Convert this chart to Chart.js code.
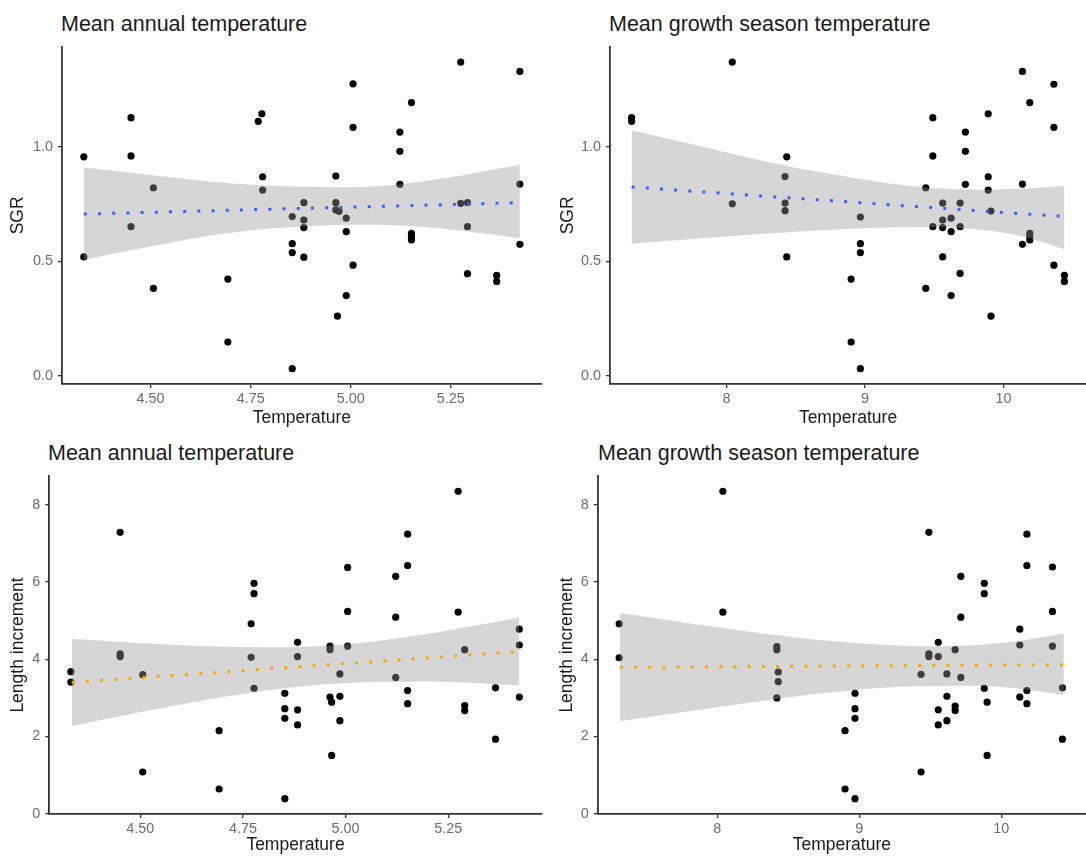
<!DOCTYPE html>
<html lang="en">
<head>
    <meta charset="UTF-8">
    <title>SGR and length increment vs temperature</title>
    <style>
        body {
            margin: 0;
            background: #ffffff;
            font-family: "Liberation Sans", Arial, sans-serif;
        }
        #page {
            position: relative;
            width: 1086px;
            height: 858px;
            overflow: hidden;
        }
        .panel-title {
            position: absolute;
            font-size: 21.5px;
            line-height: 1;
            color: #1a1a1a;
            white-space: nowrap;
            z-index: 2;
        }
        canvas {
            position: absolute;
        }
    </style>
</head>
<body>
<div id="page">
    <div class="panel-title" style="left:61px; top:14px;">Mean annual temperature</div>
    <div class="panel-title" style="left:609px; top:14px;">Mean growth season temperature</div>
    <div class="panel-title" style="left:48px; top:443px;">Mean annual temperature</div>
    <div class="panel-title" style="left:598px; top:443px;">Mean growth season temperature</div>

    <canvas id="c1" width="543" height="390" style="left:0px; top:40px;"></canvas>
    <canvas id="c2" width="543" height="390" style="left:543px; top:40px;"></canvas>
    <canvas id="c3" width="543" height="388" style="left:0px; top:470px;"></canvas>
    <canvas id="c4" width="543" height="388" style="left:543px; top:470px;"></canvas>
</div>

<script src="https://cdn.jsdelivr.net/npm/chart.js@4.4.1/dist/chart.umd.min.js"></script>
<script>
    // tick values and labels
    const annualTicks = [4.5, 4.75, 5.0, 5.25];
    const annualTickLabels = ['4.50', '4.75', '5.00', '5.25'];
    const growthTicks = [8, 9, 10];
    const growthTickLabels = ['8', '9', '10'];
    const sgrTicks = [0, 0.5, 1.0];
    const sgrTickLabels = ['0.0', '0.5', '1.0'];
    const lengthTicks = [0, 2, 4, 6, 8];
    const lengthTickLabels = ['0', '2', '4', '6', '8'];

    // axis limits
    const annualRange = [4.2785, 5.4775];
    const growthRange = [7.159, 10.596];
    const sgrRange = [-0.035, 1.438];
    const lengthRange = [-0.008, 8.748];

    // SGR vs mean annual temperature
    const annualSgrX = [4.333, 4.333, 4.451, 4.451, 4.451, 4.507, 4.507, 4.693, 4.693, 4.769, 4.778, 4.780, 4.780,
        4.854, 4.854, 4.854, 4.854, 4.883, 4.883, 4.883, 4.883, 4.963, 4.963, 4.963, 4.967, 4.971,
        4.989, 4.989, 4.989, 5.006, 5.006, 5.006, 5.123, 5.123, 5.123, 5.152, 5.152, 5.152, 5.152,
        5.275, 5.275, 5.292, 5.292, 5.292, 5.365, 5.365, 5.423, 5.423, 5.423];
    const annualSgrY = [0.957, 0.520, 1.128, 0.961, 0.652, 0.822, 0.383, 0.423, 0.148, 1.112, 1.145, 0.870, 0.812,
        0.696, 0.578, 0.539, 0.032, 0.757, 0.681, 0.648, 0.519, 0.873, 0.757, 0.725, 0.261, 0.719,
        0.689, 0.630, 0.351, 1.276, 1.086, 0.484, 1.065, 0.981, 0.837, 1.194, 0.623, 0.609, 0.594,
        1.371, 0.754, 0.757, 0.652, 0.447, 0.439, 0.413, 1.330, 0.838, 0.575];
    const annualSgrFitX = [4.333, 5.423];
    const annualSgrFitY = [0.707, 0.757];
    const annualSgrBandX = [4.333, 4.5, 4.7, 4.9, 5.05, 5.2, 5.423];
    const annualSgrBandHi = [0.910, 0.878, 0.842, 0.826, 0.828, 0.855, 0.923];
    const annualSgrBandLo = [0.507, 0.565, 0.625, 0.655, 0.660, 0.648, 0.602];

    // SGR vs mean growth season temperature
    const growthSgrX = [7.315, 7.315, 8.042, 8.042, 8.423, 8.423, 8.423, 8.435, 8.435, 8.900, 8.900,
        8.967, 8.967, 8.967, 8.967, 9.439, 9.439, 9.490, 9.490, 9.490, 9.561, 9.561, 9.561, 9.561,
        9.622, 9.622, 9.622, 9.687, 9.687, 9.687, 9.725, 9.725, 9.725, 9.890, 9.890, 9.890, 9.910, 9.910,
        10.137, 10.137, 10.137, 10.190, 10.190, 10.190, 10.190, 10.364, 10.364, 10.364, 10.440, 10.440];
    const growthSgrY = [1.128, 1.112, 1.371, 0.752, 0.871, 0.755, 0.722, 0.957, 0.520, 0.423, 0.148,
        0.694, 0.578, 0.539, 0.032, 0.822, 0.383, 1.128, 0.961, 0.652, 0.755, 0.681, 0.648, 0.520,
        0.689, 0.630, 0.351, 0.755, 0.652, 0.448, 1.065, 0.981, 0.837, 1.145, 0.870, 0.812, 0.720, 0.261,
        1.330, 0.838, 0.575, 1.194, 0.623, 0.609, 0.594, 1.274, 1.086, 0.484, 0.439, 0.413];
    const growthSgrFitX = [7.315, 10.44];
    const growthSgrFitY = [0.825, 0.696];
    const growthSgrBandX = [7.315, 7.8, 8.3, 8.8, 9.3, 9.7, 10.1, 10.44];
    const growthSgrBandHi = [1.073, 1.005, 0.935, 0.878, 0.832, 0.815, 0.818, 0.830];
    const growthSgrBandLo = [0.577, 0.600, 0.622, 0.640, 0.650, 0.645, 0.615, 0.554];

    // Length increment vs mean annual temperature
    const annualLenX = [4.331, 4.331, 4.451, 4.451, 4.451, 4.506, 4.506, 4.692, 4.692, 4.770, 4.770,
        4.777, 4.777, 4.777, 4.852, 4.852, 4.852, 4.852, 4.883, 4.883, 4.883, 4.883, 4.962, 4.962, 4.962,
        4.966, 4.966, 4.986, 4.986, 4.986, 5.005, 5.005, 5.005, 5.122, 5.122, 5.122, 5.151, 5.151, 5.151, 5.151,
        5.274, 5.274, 5.290, 5.290, 5.290, 5.365, 5.365, 5.423, 5.423, 5.423];
    const annualLenY = [3.68, 3.41, 7.29, 4.14, 4.07, 3.60, 1.08, 2.15, 0.64, 4.92, 4.05,
        5.97, 5.70, 3.25, 3.12, 2.72, 2.47, 0.39, 4.44, 4.07, 2.69, 2.30, 4.34, 4.25, 3.02,
        2.89, 1.51, 3.62, 3.04, 2.41, 6.38, 5.24, 4.34, 6.15, 5.09, 3.53, 7.24, 6.43, 3.19, 2.85,
        8.35, 5.22, 4.25, 2.80, 2.67, 3.26, 1.93, 4.78, 4.37, 3.02];
    const annualLenFitX = [4.333, 5.423];
    const annualLenFitY = [3.40, 4.20];
    const annualLenBandX = [4.333, 4.55, 4.75, 4.95, 5.15, 5.3, 5.423];
    const annualLenBandHi = [4.53, 4.39, 4.32, 4.35, 4.58, 4.84, 5.08];
    const annualLenBandLo = [2.27, 2.73, 3.10, 3.35, 3.42, 3.39, 3.32];

    // Length increment vs mean growth season temperature
    const growthLenX = [7.310, 7.310, 8.040, 8.040, 8.420, 8.420, 8.420, 8.430, 8.430, 8.900, 8.900,
        8.970, 8.970, 8.970, 8.970, 9.435, 9.435, 9.490, 9.490, 9.490, 9.556, 9.556, 9.556, 9.556,
        9.617, 9.617, 9.617, 9.675, 9.675, 9.675, 9.715, 9.715, 9.715, 9.880, 9.880, 9.880, 9.900, 9.900,
        10.130, 10.130, 10.130, 10.180, 10.180, 10.180, 10.180, 10.360, 10.360, 10.360, 10.430, 10.430];
    const growthLenY = [4.92, 4.04, 8.35, 5.22, 4.33, 4.25, 3.00, 3.67, 3.42, 2.15, 0.64,
        3.12, 2.72, 2.47, 0.39, 3.61, 1.08, 7.29, 4.14, 4.07, 4.44, 4.07, 2.69, 2.30,
        3.62, 3.04, 2.41, 4.25, 2.79, 2.67, 6.15, 5.09, 3.53, 5.97, 5.70, 3.25, 2.89, 1.51,
        4.78, 4.37, 3.02, 7.24, 6.43, 3.19, 2.85, 6.39, 5.24, 4.34, 3.26, 1.93];
    const growthLenFitX = [7.315, 10.44];
    const growthLenFitY = [3.79, 3.86];
    const growthLenBandX = [7.315, 8.0, 8.43, 8.74, 9.2, 9.6, 10.0, 10.44];
    const growthLenBandHi = [5.20, 4.83, 4.62, 4.49, 4.37, 4.34, 4.42, 4.66];
    const growthLenBandLo = [2.40, 2.76, 2.98, 3.12, 3.27, 3.31, 3.28, 3.08];

    const BLUE = '#3366ff';
    const ORANGE = '#ffa500';
    const AXIS = '#333333';
    const TICK_TEXT = '#6b6b6b';
    const TITLE_TEXT = '#1a1a1a';
    const FONT = '"Liberation Sans", Arial, sans-serif';

    function zip(xs, ys) {
        return xs.map((x, i) => ({ x: x, y: ys[i] }));
    }

    function makePanel(p) {
        const ctx = document.getElementById(p.id).getContext('2d');
        return new Chart(ctx, {
            type: 'scatter',
            data: {
                datasets: [
                    {
                        // fitted line
                        type: 'line',
                        data: zip(p.fitX, p.fitY),
                        borderColor: p.lineColor,
                        borderWidth: 3,
                        borderDash: [3, 11.2],
                        borderCapStyle: 'butt',
                        pointRadius: 0,
                        fill: false,
                        order: 1
                    },
                    {
                        // confidence band, upper edge (filled down to the next dataset)
                        type: 'line',
                        data: zip(p.bandX, p.bandHi),
                        borderWidth: 0,
                        borderColor: 'rgba(0,0,0,0)',
                        backgroundColor: 'rgba(153,153,153,0.4)',
                        pointRadius: 0,
                        tension: 0.4,
                        fill: '+1',
                        order: 2
                    },
                    {
                        type: 'line',
                        data: zip(p.bandX, p.bandLo),
                        borderWidth: 0,
                        borderColor: 'rgba(0,0,0,0)',
                        pointRadius: 0,
                        tension: 0.4,
                        fill: false,
                        order: 2
                    },
                    {
                        // observations
                        data: zip(p.xs, p.ys),
                        backgroundColor: '#000000',
                        borderWidth: 0,
                        pointRadius: 3.6,
                        order: 3
                    }
                ]
            },
            options: {
                responsive: false,
                animation: false,
                events: [],
                layout: {
                    autoPadding: false,
                    padding: { top: p.padTop, right: p.padRight, bottom: 0, left: 0 }
                },
                plugins: {
                    legend: { display: false },
                    tooltip: { enabled: false },
                    title: { display: false }
                },
                scales: {
                    x: {
                        type: 'linear',
                        min: p.xRange[0],
                        max: p.xRange[1],
                        afterBuildTicks: s => { s.ticks = p.xTicks.map(v => ({ value: v })); },
                        afterFit: s => {
                            s.height = p.xAxisH;
                            s.paddingLeft = 0;
                            s.paddingRight = 0;
                        },
                        ticks: {
                            callback: (v, i) => p.xTickLabels[i],
                            color: TICK_TEXT,
                            font: { family: FONT, size: 14.4 },
                            padding: 2.5,
                            maxRotation: 0
                        },
                        grid: {
                            display: true,
                            drawOnChartArea: false,
                            drawTicks: true,
                            tickLength: 4,
                            color: AXIS,
                            lineWidth: 1.3
                        },
                        border: { display: true, color: AXIS, width: 1.8 },
                        title: {
                            display: true,
                            text: 'Temperature',
                            color: TITLE_TEXT,
                            font: { family: FONT, size: 17.5 },
                            padding: { top: 0, bottom: p.xTitlePad }
                        }
                    },
                    y: {
                        type: 'linear',
                        min: p.yRange[0],
                        max: p.yRange[1],
                        afterBuildTicks: s => { s.ticks = p.yTicks.map(v => ({ value: v })); },
                        afterFit: s => {
                            s.width = p.yAxisW;
                            s.paddingTop = 0;
                            s.paddingBottom = 0;
                        },
                        ticks: {
                            callback: (v, i) => p.yTickLabels[i],
                            color: TICK_TEXT,
                            font: { family: FONT, size: 14.4 },
                            padding: 5
                        },
                        grid: {
                            display: true,
                            drawOnChartArea: false,
                            drawTicks: true,
                            tickLength: 4,
                            color: AXIS,
                            lineWidth: 1.3
                        },
                        border: { display: true, color: AXIS, width: 1.8 },
                        title: {
                            display: true,
                            text: p.yTitle,
                            color: TITLE_TEXT,
                            font: { family: FONT, size: 17.5 },
                            padding: { top: p.yTitlePad, bottom: 0 }
                        }
                    }
                }
            }
        });
    }

    makePanel({
        id: 'c1', xs: annualSgrX, ys: annualSgrY,
        fitX: annualSgrFitX, fitY: annualSgrFitY,
        bandX: annualSgrBandX, bandHi: annualSgrBandHi, bandLo: annualSgrBandLo,
        lineColor: BLUE, yTitle: 'SGR',
        xRange: annualRange, xTicks: annualTicks, xTickLabels: annualTickLabels,
        yRange: sgrRange, yTicks: sgrTicks, yTickLabels: sgrTickLabels,
        padTop: 6.7, padRight: 1.3, yAxisW: 62, xAxisH: 46, yTitlePad: 7.5, xTitlePad: 1.5
    });

    makePanel({
        id: 'c2', xs: growthSgrX, ys: growthSgrY,
        fitX: growthSgrFitX, fitY: growthSgrFitY,
        bandX: growthSgrBandX, bandHi: growthSgrBandHi, bandLo: growthSgrBandLo,
        lineColor: BLUE, yTitle: 'SGR',
        xRange: growthRange, xTicks: growthTicks, xTickLabels: growthTickLabels,
        yRange: sgrRange, yTicks: sgrTicks, yTickLabels: sgrTickLabels,
        padTop: 6.7, padRight: 0, yAxisW: 67, xAxisH: 46, yTitlePad: 14.5, xTitlePad: 1.5
    });

    makePanel({
        id: 'c3', xs: annualLenX, ys: annualLenY,
        fitX: annualLenFitX, fitY: annualLenFitY,
        bandX: annualLenBandX, bandHi: annualLenBandHi, bandLo: annualLenBandLo,
        lineColor: ORANGE, yTitle: 'Length increment',
        xRange: annualRange, xTicks: annualTicks, xTickLabels: annualTickLabels,
        yRange: lengthRange, yTicks: lengthTicks, yTickLabels: lengthTickLabels,
        padTop: 6, padRight: 1.3, yAxisW: 49.3, xAxisH: 44, yTitlePad: 7.5, xTitlePad: 2.5
    });

    makePanel({
        id: 'c4', xs: growthLenX, ys: growthLenY,
        fitX: growthLenFitX, fitY: growthLenFitY,
        bandX: growthLenBandX, bandHi: growthLenBandHi, bandLo: growthLenBandLo,
        lineColor: ORANGE, yTitle: 'Length increment',
        xRange: growthRange, xTicks: growthTicks, xTickLabels: growthTickLabels,
        yRange: lengthRange, yTicks: lengthTicks, yTickLabels: lengthTickLabels,
        padTop: 6, padRight: 0, yAxisW: 54.7, xAxisH: 44, yTitlePad: 13.2, xTitlePad: 2.5
    });
</script>
</body>
</html>
